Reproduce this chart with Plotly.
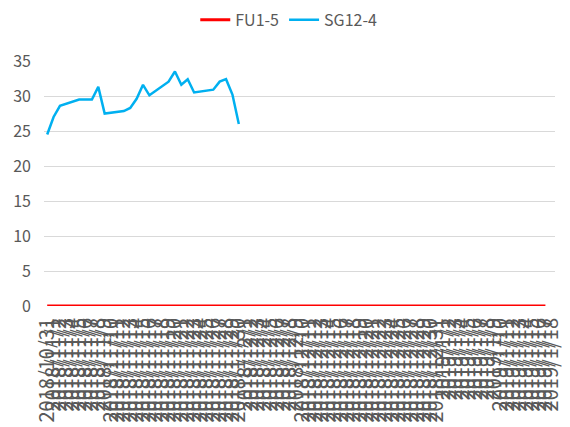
import plotly.graph_objects as go

dates = [
    "2018/10/31",
    "2018/11/1", "2018/11/2", "2018/11/3", "2018/11/4", "2018/11/5", "2018/11/6", "2018/11/7",
    "2018/11/8", "2018/11/9", "2018/11/10", "2018/11/11", "2018/11/12", "2018/11/13", "2018/11/14",
    "2018/11/15", "2018/11/16", "2018/11/17", "2018/11/18", "2018/11/19", "2018/11/20", "2018/11/21",
    "2018/11/22", "2018/11/23", "2018/11/24", "2018/11/25", "2018/11/26", "2018/11/27", "2018/11/28",
    "2018/11/29", "2018/11/30",
    "2018/12/1", "2018/12/2", "2018/12/3", "2018/12/4", "2018/12/5", "2018/12/6", "2018/12/7",
    "2018/12/8", "2018/12/9", "2018/12/10", "2018/12/11", "2018/12/12", "2018/12/13", "2018/12/14",
    "2018/12/15", "2018/12/16", "2018/12/17", "2018/12/18", "2018/12/19", "2018/12/20", "2018/12/21",
    "2018/12/22", "2018/12/23", "2018/12/24", "2018/12/25", "2018/12/26", "2018/12/27", "2018/12/28",
    "2018/12/29", "2018/12/30", "2018/12/31",
    "2019/1/1", "2019/1/2", "2019/1/3", "2019/1/4", "2019/1/5", "2019/1/6", "2019/1/7",
    "2019/1/8", "2019/1/9", "2019/1/10", "2019/1/11", "2019/1/12", "2019/1/13", "2019/1/14",
    "2019/1/15", "2019/1/16", "2019/1/17", "2019/1/18",
]

fu1_5 = [0] * 79 + [None]

sg12_4_nov = [
    24.5, 27.0, 28.6, None, None, 29.5, 29.5, 29.5, 31.3, 27.5,
    None, None, 27.85, 28.3, 29.6, 31.6, 30.1, None, None, 32.05,
    33.5, 31.6, 32.4, 30.5, None, None, 30.9, 32.05, 32.4, 30.2,
    26.0,
]
sg12_4 = sg12_4_nov + [None] * (len(dates) - len(sg12_4_nov))

FONT = "Noto Sans CJK SC"
GREY = "#595959"

fig = go.Figure()
fig.add_trace(go.Scatter(x=dates, y=fu1_5, name="FU1-5", mode="lines",
                         line=dict(color="#FF0000", width=3)))
fig.add_trace(go.Scatter(x=dates, y=sg12_4, name="SG12-4", mode="lines",
                         connectgaps=True,
                         line=dict(color="#00B0F0", width=2.5)))

fig.update_layout(
    width=562, height=419,
    margin=dict(l=36, r=15, t=53, b=121, autoexpand=False),
    paper_bgcolor="white", plot_bgcolor="white",
    font=dict(family=FONT, size=16, color=GREY),
    showlegend=True,
    legend=dict(orientation="h", x=0.479, xanchor="center", y=1.168, yanchor="middle",
                font=dict(size=16, color=GREY), bgcolor="rgba(0,0,0,0)"),
    xaxis=dict(type="category", range=[-0.5, 79.5], tickmode="linear", dtick=1,
               tickangle=-90, showgrid=False, showline=False, ticks="",
               ticklabelstandoff=7, automargin=False,
               tickfont=dict(size=20, color=GREY), zeroline=False),
    yaxis=dict(range=[0, 35], dtick=5, showgrid=True, gridcolor="#D9D9D9",
               gridwidth=1, zeroline=False, showline=False, ticks="",
               ticklabelstandoff=12, automargin=False,
               tickfont=dict(size=16, color=GREY)),
)

fig.write_html("out.html")
